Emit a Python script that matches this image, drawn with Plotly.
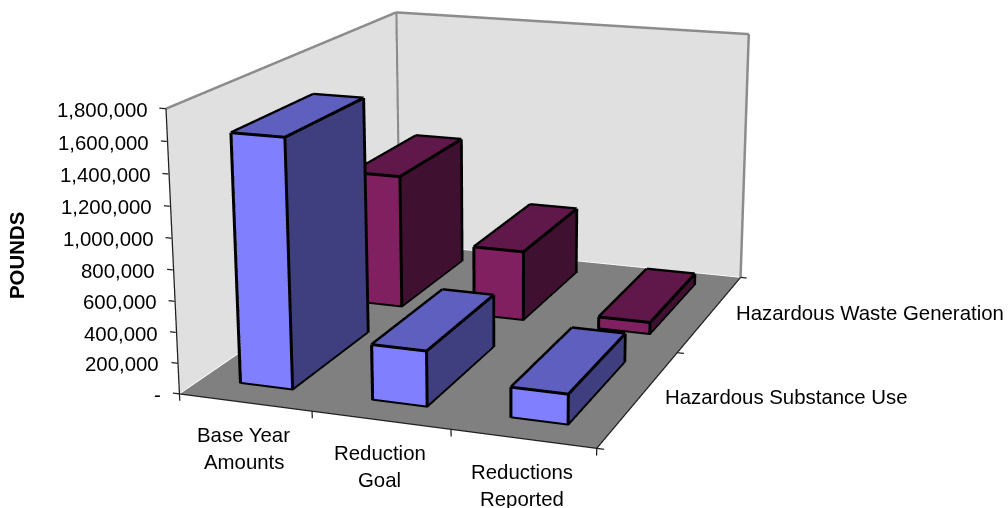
import plotly.graph_objects as go

categories = [["Base Year", "Amounts"], ["Reduction", "Goal"], ["Reductions", "Reported"]]
series_names = ["Hazardous Substance Use", "Hazardous Waste Generation"]
substance_use = [1610000, 360000, 195000]
waste_generation = [940000, 490000, 85000]
z_ticks = [0, 200000, 400000, 600000, 800000, 1000000, 1200000, 1400000, 1600000, 1800000]
z_labels = ["-", "200,000", "400,000", "600,000", "800,000", "1,000,000",
            "1,200,000", "1,400,000", "1,600,000", "1,800,000"]

Z_MAX = 1800000
# Bars occupy this span of each category / series slot.
BAR_X = (0.30, 0.70)
BAR_Y = (0.167, 0.833)
# Axis ranges carry a symmetric pad so tick stubs are not clipped.
PAD_X, PAD_Y, PAD_Z = 0.1, 0.1, 100000
ASPECT = (1.0, 1.3244, 0.6676)
# Walls and floor sit a hair behind the box edges so the edge lines stay on top,
# and bar faces sit a hair inside their outlines for the same reason.
WALL_EPS_XY, WALL_EPS_Z = 0.006, 3000
FACE_INSET_XY, FACE_INSET_Z = 0.006, 3000

# Perspective in plotly is fixed at a 45 degree field, so the scene is sized to
# give the long-lens look and the div is offset to bring the view into the window.
SCENE_HEIGHT = 1714
SCENE_TOP = -603

BLUE = ("#8080ff", "#3f3f7f", "#5f5fbf")
PLUM = ("#802060", "#401030", "#60184a")
FLAT = dict(ambient=1, diffuse=0, specular=0, fresnel=0, roughness=1)


def box(x0, x1, y0, y1, z1):
    return ([x0, x1, x1, x0, x0, x1, x1, x0],
            [y0, y0, y1, y1, y0, y0, y1, y1],
            [0, 0, 0, 0, z1, z1, z1, z1])


QUADS = [(0, 1, 5, 4, 0), (1, 2, 6, 5, 1), (4, 5, 6, 7, 2),
         (3, 2, 6, 7, 1), (0, 3, 7, 4, 1), (0, 1, 2, 3, 1)]
EDGES = [(0, 1), (1, 2), (2, 3), (3, 0), (4, 5), (5, 6), (6, 7), (7, 4),
         (0, 4), (1, 5), (2, 6), (3, 7)]


def bars(values, slot, colors, name):
    xs, ys, zs, ii, jj, kk, fc = [], [], [], [], [], [], []
    lx, ly, lz = [], [], []
    ix, iz = FACE_INSET_XY, FACE_INSET_Z
    for c, v in enumerate(values):
        x0, x1 = c + BAR_X[0], c + BAR_X[1]
        y0, y1 = slot + BAR_Y[0], slot + BAR_Y[1]
        fx, fy, fz = box(x0 + ix, x1 - ix, y0 + ix, y1 - ix, v - iz)
        n = len(xs)
        xs += fx
        ys += fy
        zs += fz
        for a, b, d, e, shade in QUADS:
            ii += [n + a, n + a]
            jj += [n + b, n + d]
            kk += [n + d, n + e]
            fc += [colors[shade], colors[shade]]
        bx, by, bz = box(x0, x1, y0, y1, v)
        for a, b in EDGES:
            lx += [bx[a], bx[b], None]
            ly += [by[a], by[b], None]
            lz += [bz[a], bz[b], None]
    mesh = go.Mesh3d(x=xs, y=ys, z=zs, i=ii, j=jj, k=kk, facecolor=fc, name=name,
                     flatshading=True, hoverinfo="skip", lighting=FLAT)
    outline = go.Scatter3d(x=lx, y=ly, z=lz, mode="lines", hoverinfo="skip",
                           line=dict(color="#000000", width=6), connectgaps=False)
    return [mesh, outline]


def plane(x, y, z, color):
    return go.Mesh3d(x=x, y=y, z=z, i=[0, 0], j=[1, 2], k=[2, 3], color=color,
                     hoverinfo="skip", flatshading=True, lighting=FLAT)


def segs(points, color, width):
    lx, ly, lz = [], [], []
    for p, q in points:
        lx += [p[0], q[0], None]
        ly += [p[1], q[1], None]
        lz += [p[2], q[2], None]
    return go.Scatter3d(x=lx, y=ly, z=lz, mode="lines", hoverinfo="skip",
                        line=dict(color=color, width=width), connectgaps=False)


NX, NY = len(categories), len(series_names)
ex, ez = WALL_EPS_XY, WALL_EPS_Z
traces = [
    plane([0, NX, NX, 0], [0, 0, NY, NY], [-ez, -ez, -ez, -ez], "#808080"),
    plane([-ex, -ex, -ex, -ex], [0, NY, NY, 0], [0, 0, Z_MAX, Z_MAX], "#e0e0e0"),
    plane([0, NX, NX, 0], [NY + ex, NY + ex, NY + ex, NY + ex], [0, 0, Z_MAX, Z_MAX], "#e0e0e0"),
]
traces.append(segs([((0, 0, Z_MAX), (0, NY, Z_MAX)), ((0, NY, Z_MAX), (NX, NY, Z_MAX)),
                    ((0, NY, 0), (0, NY, Z_MAX)), ((NX, NY, 0), (NX, NY, Z_MAX))],
                   "#8c8c8c", 5))
tick_segments = [((0, 0, 0), (0, 0, Z_MAX)), ((0, 0, 0), (NX, 0, 0)), ((NX, 0, 0), (NX, NY, 0))]
tick_segments += [((0, 0, t), (-0.05, 0, t)) for t in z_ticks]
tick_segments += [((c, 0, 0), (c, 0, -45000)) for c in range(NX + 1)]
tick_segments += [((NX, s, 0), (NX + 0.05, s, 0)) for s in range(NY + 1)]
traces.append(segs(tick_segments, "#202020", 2.5))
traces += bars(substance_use, 0, BLUE, series_names[0])
traces += bars(waste_generation, 1, PLUM, series_names[1])

FAMILY = "Liberation Sans, Arial, sans-serif"
FONT = dict(family=FAMILY, size=20.4, color="#000000")
annotations = []
for t, lab in zip(z_ticks, z_labels):
    annotations.append(dict(x=0, y=0, z=t, text=lab, showarrow=False, xanchor="right",
                            xshift=-16.5, yshift=-1, font=FONT))
for c, lines in enumerate(categories):
    for n, line in enumerate(lines):
        annotations.append(dict(x=c + 0.5, y=0, z=0, text=line, showarrow=False,
                                xanchor="center", xshift=-1, yshift=-33 - 27 * n, font=FONT))
for s, name in enumerate(series_names):
    annotations.append(dict(x=NX, y=s + 0.5, z=0, text=name, showarrow=False,
                            xanchor="left", xshift=23, font=FONT))

axis = dict(visible=False, showspikes=False)
fig = go.Figure(traces)
fig.update_layout(
    width=1008, height=SCENE_HEIGHT, autosize=False, showlegend=False,
    margin=dict(l=0, r=0, t=0, b=0), paper_bgcolor="#ffffff",
    scene=dict(
        xaxis=dict(axis, range=[-PAD_X, NX + PAD_X]),
        yaxis=dict(axis, range=[-PAD_Y, NY + PAD_Y]),
        zaxis=dict(axis, range=[-PAD_Z, Z_MAX + PAD_Z]),
        aspectmode="manual",
        aspectratio=dict(x=ASPECT[0] * (NX + 2 * PAD_X) / NX,
                         y=ASPECT[1] * (NY + 2 * PAD_Y) / NY,
                         z=ASPECT[2] * (Z_MAX + 2 * PAD_Z) / Z_MAX),
        camera=dict(eye=dict(x=1.6968, y=-4.6139, z=1.3109),
                    center=dict(x=0.0506, y=0.0094, z=-0.1312),
                    up=dict(x=0, y=0, z=1),
                    projection=dict(type="perspective")),
        annotations=annotations,
        bgcolor="#ffffff",
    ),
    annotations=[dict(xref="paper", yref="paper", x=17 / 1008, xanchor="center",
                      y=1 - (256 - SCENE_TOP) / SCENE_HEIGHT, yanchor="middle",
                      text="<b>POUNDS</b>", textangle=-90, showarrow=False,
                      font=dict(family=FAMILY, size=20.4, color="#000000"))],
)
offset = (
    "var gd=document.getElementById('{plot_id}');"
    f"gd.style.position='absolute';gd.style.left='0';gd.style.top='{SCENE_TOP}px';"
    "document.documentElement.style.overflow='hidden';document.body.style.overflow='hidden';"
)
fig.write_html("out.html", config=dict(displayModeBar=False), post_script=offset)
